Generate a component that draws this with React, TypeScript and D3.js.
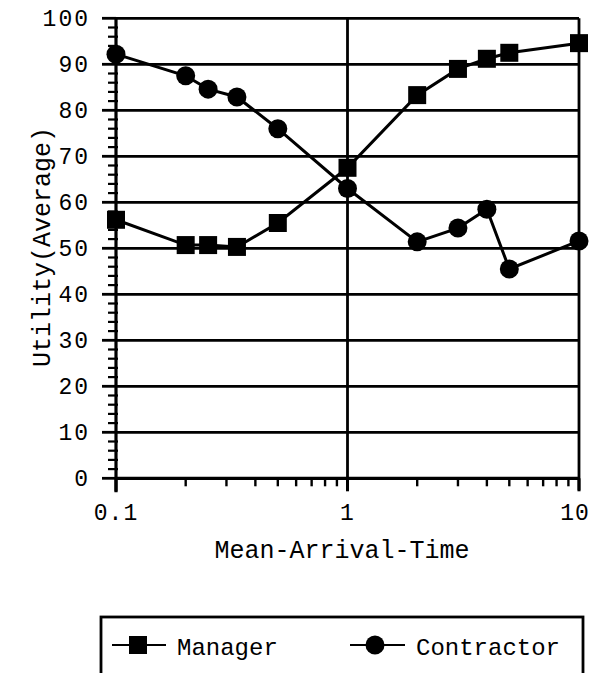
import React from "react";
import * as d3 from "d3";

const arrivalTimes = [0.1, 0.2, 0.25, 0.333, 0.5, 1, 2, 3, 4, 5, 10];
const managerValues = [56.2, 50.7, 50.7, 50.3, 55.5, 67.5, 83.3, 89, 91.2, 92.5, 94.6];
const contractorValues = [92.2, 87.5, 84.6, 82.9, 76, 63, 51.4, 54.4, 58.5, 45.5, 51.6];
const yTicks = [0, 10, 20, 30, 40, 50, 60, 70, 80, 90, 100];
const xTickLabels = ["0.1", "1", "10"];
const xMajorTicks = [0.1, 1, 10];
const seriesNames = ["Manager", "Contractor"];

const W = 592;
const H = 673;
const FONT = "'Liberation Mono', 'Courier New', monospace";

export default function App() {
  const x = d3.scaleLog().domain([0.1, 10]).range([116, 579]);
  const y = d3.scaleLinear().domain([0, 100]).range([478.3, 18.3]);
  const yMinor = d3.range(0, 101, 2).filter((v) => v % 10 !== 0);
  const xMinor = [
    ...d3.range(2, 10).map((d) => d / 10),
    ...d3.range(2, 10),
  ];
  const line = d3
    .line<[number, number]>()
    .x((d) => x(d[0]))
    .y((d) => y(d[1]));
  const mData = arrivalTimes.map((t, i) => [t, managerValues[i]] as [number, number]);
  const cData = arrivalTimes.map((t, i) => [t, contractorValues[i]] as [number, number]);
  const sq = 18;
  const r = 9.5;

  return (
    <svg
      width={W}
      height={H}
      style={{ position: "absolute", left: 0, top: 0, background: "#fff" }}
      fontFamily={FONT}
    >
      <rect width={W} height={H} fill="#fff" />
      {/* horizontal gridlines */}
      {yTicks.map((v) => (
        <line key={"g" + v} x1={x(0.1)} x2={x(10)} y1={y(v)} y2={y(v)} stroke="#000" strokeWidth={2.8} />
      ))}
      {/* vertical gridline at 1 */}
      <line x1={x(1)} x2={x(1)} y1={y(100)} y2={y(0)} stroke="#000" strokeWidth={2.8} />
      {/* right border */}
      <line x1={x(10)} x2={x(10)} y1={y(100)} y2={y(0) + 12} stroke="#000" strokeWidth={2.8} />
      {/* y axis */}
      <line x1={x(0.1)} x2={x(0.1)} y1={y(100)} y2={y(0) + 14} stroke="#000" strokeWidth={3.2} />
      {/* y major ticks */}
      {yTicks.map((v) => (
        <line key={"ym" + v} x1={102} x2={x(0.1)} y1={y(v)} y2={y(v)} stroke="#000" strokeWidth={2.8} />
      ))}
      {yMinor.map((v) => (
        <line key={"yn" + v} x1={108} x2={118} y1={y(v)} y2={y(v)} stroke="#000" strokeWidth={2.2} />
      ))}
      {/* x axis */}
      <line x1={x(0.1)} x2={x(10)} y1={y(0)} y2={y(0)} stroke="#000" strokeWidth={3.2} />
      {xMajorTicks.map((v) => (
        <line key={"xm" + v} x1={x(v)} x2={x(v)} y1={y(0)} y2={y(0) + 13} stroke="#000" strokeWidth={3} />
      ))}
      {xMinor.map((v) => (
        <line key={"xn" + v} x1={x(v)} x2={x(v)} y1={y(0)} y2={y(0) + 8} stroke="#000" strokeWidth={2.4} />
      ))}
      {/* y tick labels */}
      {yTicks.map((v) => (
        <text
          key={"yl" + v}
          x={90}
          y={y(v)}
          dy="0.35em"
          textAnchor="end"
          fontSize={23}
          letterSpacing={2}
        >
          {v}
        </text>
      ))}
      {/* x tick labels */}
      {xMajorTicks.map((v, i) => (
        <text
          key={"xl" + v}
          x={x(v) + (i === 2 ? -4 : 0)}
          y={520}
          textAnchor="middle"
          fontSize={23}
          letterSpacing={1}
        >
          {xTickLabels[i]}
        </text>
      ))}
      {/* axis titles */}
      <text x={342} y={558} textAnchor="middle" fontSize={25}>
        Mean-Arrival-Time
      </text>
      <text
        transform={`translate(50,247) rotate(-90)`}
        textAnchor="middle"
        fontSize={25}
      >
        Utility(Average)
      </text>
      {/* series lines */}
      <path d={line(mData) ?? ""} fill="none" stroke="#000" strokeWidth={3} />
      <path d={line(cData) ?? ""} fill="none" stroke="#000" strokeWidth={3} />
      {mData.map((d, i) => (
        <rect key={"m" + i} x={x(d[0]) - sq / 2} y={y(d[1]) - sq / 2} width={sq} height={sq} fill="#000" />
      ))}
      {cData.map((d, i) => (
        <circle key={"c" + i} cx={x(d[0])} cy={y(d[1])} r={r} fill="#000" />
      ))}
      {/* legend */}
      <rect x={101} y={617} width={482} height={90} fill="none" stroke="#000" strokeWidth={2.8} />
      <line x1={112} x2={166} y1={645} y2={645} stroke="#000" strokeWidth={1.8} />
      <rect x={138 - sq / 2} y={645 - sq / 2} width={sq} height={sq} fill="#000" />
      <text x={177} y={655} fontSize={24}>
        {seriesNames[0]}
      </text>
      <line x1={350} x2={405} y1={645} y2={645} stroke="#000" strokeWidth={1.8} />
      <circle cx={375} cy={645} r={r} fill="#000" />
      <text x={416} y={655} fontSize={24}>
        {seriesNames[1]}
      </text>
    </svg>
  );
}
